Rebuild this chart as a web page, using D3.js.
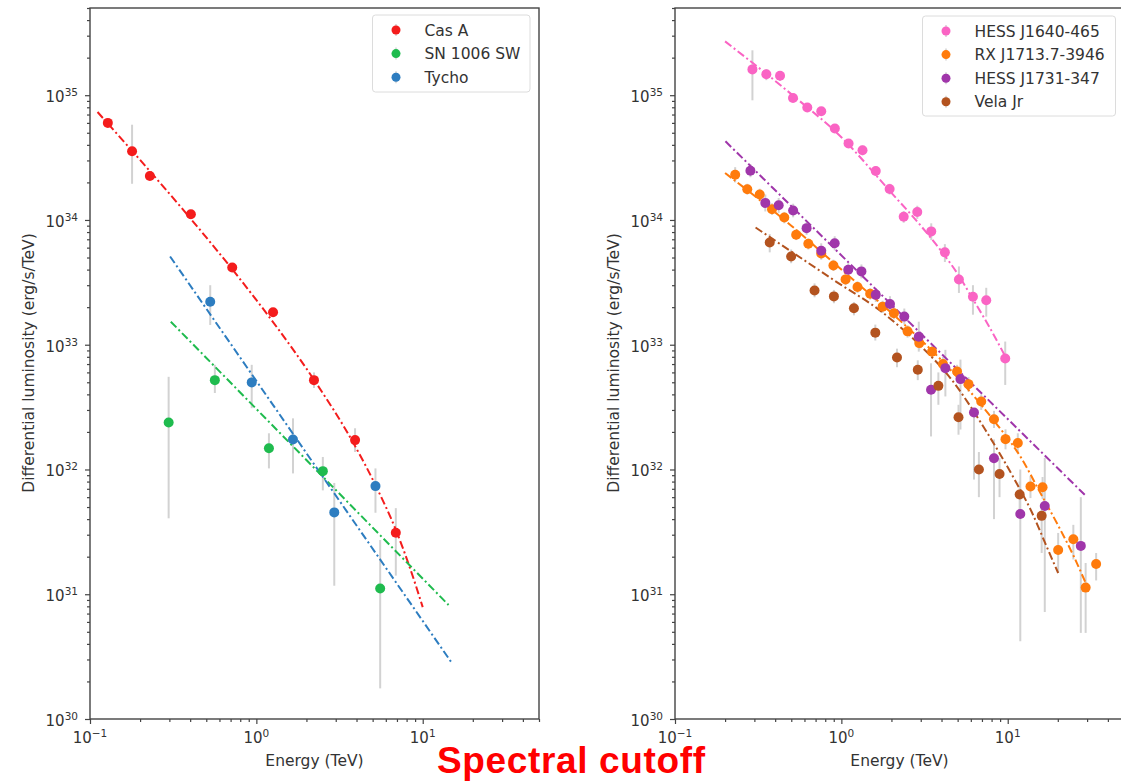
<!DOCTYPE html>
<html>
<head>
<meta charset="utf-8">
<script src="https://cdn.jsdelivr.net/npm/d3@7"></script>
<style>
body { margin: 0; background: #fff; }
svg { display: block; font-family: "DejaVu Sans", sans-serif; }
</style>
</head>
<body>
<svg id="vis_canvas" width="1121" height="781"></svg>
<script>
// ---- left panel: shell SNRs ----
var casA_E  = [0.128, 0.179, 0.229, 0.404, 0.716, 1.26, 2.22, 3.92, 6.89];
var casA_L  = [6.0e34, 3.56e34, 2.25e34, 1.11e34, 4.16e33, 1.82e33, 5.2e32, 1.72e32, 3.11e31];
var casA_lo = [5.6e34, 1.95e34, 2.1e34, 1.03e34, 3.9e33, 1.7e33, 4.5e32, 1.38e32, 1.41e31];
var casA_hi = [6.4e34, 5.8e34, 2.4e34, 1.19e34, 4.4e33, 1.95e33, 6.0e32, 2.14e32, 4.9e31];

var sn1006_E  = [0.297, 0.563, 1.19, 2.51, 5.55];
var sn1006_L  = [2.38e32, 5.2e32, 1.48e32, 9.7e31, 1.11e31];
var sn1006_lo = [4.06e31, 4.1e32, 1.02e32, 6.8e31, 1.76e30];
var sn1006_hi = [5.53e32, 6.9e32, 1.95e32, 1.26e32, 2.72e31];

var tycho_E  = [0.528, 0.938, 1.66, 2.94, 5.20];
var tycho_L  = [2.21e33, 4.99e32, 1.74e32, 4.53e31, 7.36e31];
var tycho_lo = [1.44e33, 3.1e32, 9.3e31, 1.17e31, 4.5e31];
var tycho_hi = [3.0e33, 6.9e32, 2.57e32, 7.8e31, 1.02e32];

var casA_fitE   = [0.111, 0.2, 0.4, 0.7, 1.25, 2.2, 3.9, 5.3, 6.9, 8.4, 10];
var casA_fitL   = [7.33e34, 3.03e34, 1.035e34, 4.18e33, 1.54e33, 5.33e32, 1.56e32, 7.11e31, 3.27e31, 1.61e31, 7.89e30];
var sn1006_fitE = [0.306, 14.3];
var sn1006_fitL = [1.53e33, 8.2e30];
var tycho_fitE  = [0.303, 15.0];
var tycho_fitL  = [5.1e33, 2.8e30];

// ---- right panel ----
var j1640_E  = [0.292, 0.354, 0.428, 0.512, 0.624, 0.757, 0.914, 1.105, 1.34, 1.61, 1.95, 2.37, 2.86, 3.47, 4.19, 5.09, 6.18, 7.43, 9.66];
var j1640_L  = [1.61e35, 1.47e35, 1.43e35, 9.5e34, 7.96e34, 7.44e34, 5.41e34, 4.1e34, 3.62e34, 2.47e34, 1.77e34, 1.06e34, 1.16e34, 8.1e33, 5.5e33, 3.33e33, 2.42e33, 2.27e33, 7.76e32];
var j1640_lo = [9.1e34, 1.32e35, 1.3e35, 8.8e34, 7.4e34, 6.9e34, 5.0e34, 3.8e34, 3.3e34, 2.25e34, 1.6e34, 9.5e33, 1.02e34, 6.9e33, 4.6e33, 2.6e33, 1.74e33, 1.68e33, 4.76e32];
var j1640_hi = [2.29e35, 1.62e35, 1.56e35, 1.02e35, 8.6e34, 8.0e34, 5.85e34, 4.45e34, 3.95e34, 2.7e34, 1.95e34, 1.18e34, 1.3e34, 9.4e33, 6.4e33, 4.24e33, 3.0e33, 2.86e33, 1.06e33];

var j1713_E  = [0.230, 0.272, 0.323, 0.383, 0.454, 0.535, 0.633, 0.757, 0.896, 1.06, 1.25, 1.49, 1.77, 2.07, 2.50, 2.94, 3.51, 4.08, 4.96, 5.81, 6.93, 8.27, 9.70, 11.5, 13.7, 16.2, 20.1, 24.8, 29.4, 34.0];
var j1713_L  = [2.3e34, 1.76e34, 1.6e34, 1.22e34, 1.045e34, 7.6e33, 6.45e33, 5.38e33, 4.31e33, 3.34e33, 2.9e33, 2.56e33, 2.02e33, 1.79e33, 1.28e33, 1.03e33, 8.8e32, 7.0e32, 6.1e32, 4.83e32, 3.51e32, 2.53e32, 1.75e32, 1.63e32, 7.3e31, 7.2e31, 2.26e31, 2.76e31, 1.13e31, 1.75e31];
var j1713_lo = [2.0e34, 1.6e34, 1.45e34, 1.1e34, 9.4e33, 6.9e33, 5.8e33, 4.8e33, 3.9e33, 3.0e33, 2.6e33, 2.3e33, 1.8e33, 1.6e33, 1.14e33, 9.1e32, 7.8e32, 6.1e32, 5.3e32, 4.2e32, 3.0e32, 2.15e32, 1.45e32, 1.35e32, 5.9e31, 5.8e31, 1.48e31, 1.9e31, 4.9e30, 1.29e31];
var j1713_hi = [2.65e34, 1.95e34, 1.78e34, 1.36e34, 1.16e34, 8.4e33, 7.1e33, 6.0e33, 4.8e33, 3.7e33, 3.22e33, 2.84e33, 2.25e33, 2.0e33, 1.43e33, 1.16e33, 9.9e32, 8.0e32, 6.9e32, 5.5e32, 4.0e32, 2.95e32, 2.1e32, 1.95e32, 8.9e31, 8.7e31, 3.1e31, 3.6e31, 1.78e31, 2.14e31];

var j1731_E  = [0.284, 0.349, 0.420, 0.513, 0.618, 0.757, 0.912, 1.10, 1.32, 1.61, 1.96, 2.39, 2.92, 3.46, 4.22, 5.20, 6.27, 8.27, 11.9, 16.7, 27.5];
var j1731_L  = [2.48e34, 1.37e34, 1.31e34, 1.19e34, 8.6e33, 5.67e33, 6.5e33, 3.99e33, 3.87e33, 2.51e33, 2.12e33, 1.68e33, 1.16e33, 4.35e32, 6.49e32, 5.3e32, 2.86e32, 1.23e32, 4.4e31, 5.1e31, 2.44e31];
var j1731_lo = [2.2e34, 1.17e34, 1.14e34, 1.05e34, 7.6e33, 4.9e33, 5.7e33, 3.5e33, 3.4e33, 2.2e33, 1.83e33, 1.45e33, 8.8e32, 1.84e32, 3.85e32, 2.09e32, 8.3e31, 4.0e31, 4.2e30, 7.2e30, 4.9e30];
var j1731_hi = [2.8e34, 1.6e34, 1.5e34, 1.35e34, 9.8e33, 6.5e33, 7.4e33, 4.5e33, 4.4e33, 2.85e33, 2.45e33, 1.95e33, 1.53e33, 7.1e32, 9.1e32, 7.6e32, 3.0e32, 1.74e32, 1.0e32, 1.24e32, 6.0e31];

var vela_E  = [0.371, 0.499, 0.690, 0.902, 1.19, 1.60, 2.16, 2.88, 3.83, 5.06, 6.71, 8.93, 11.8, 16.0];
var vela_L  = [6.6e33, 5.1e33, 2.72e33, 2.44e33, 1.96e33, 1.25e33, 7.9e32, 6.3e32, 4.68e32, 2.62e32, 1.0e32, 9.2e31, 6.3e31, 4.25e31];
var vela_lo = [5.5e33, 4.5e33, 2.4e33, 2.15e33, 1.72e33, 1.08e33, 6.6e32, 5.2e32, 3.3e32, 1.9e32, 6.0e31, 6.0e31, 4.5e31, 2.14e31];
var vela_hi = [7.7e33, 5.8e33, 3.1e33, 2.75e33, 2.2e33, 1.45e33, 9.3e32, 7.5e32, 6.0e32, 3.3e32, 1.38e32, 1.23e32, 8.0e31, 4.8e31];

var j1640_fitE = [0.2, 0.5, 1.0, 2.0, 3.0, 4.0, 5.0, 6.2, 7.5, 9.8];
var j1640_fitL = [2.7e35, 1.02e35, 4.6e34, 1.65e34, 9.0e33, 5.6e33, 3.7e33, 2.3e33, 1.5e33, 7.8e32];
var j1713_fitE = [0.2, 0.5, 1.0, 2.0, 4.0, 8.0, 12, 16, 20, 25, 29.5];
var j1713_fitL = [2.38e34, 9.0e33, 4.0e33, 1.8e33, 7.5e32, 2.6e32, 1.25e32, 6.2e31, 3.6e31, 2.0e31, 1.22e31];
var j1731_fitE = [0.201, 29.1];
var j1731_fitL = [4.27e34, 6.25e31];
var vela_fitE  = [0.305, 0.9, 1.8, 2.9, 4.6, 7.3, 11, 13.9, 17.5, 20.1];
var vela_fitL  = [8.7e33, 3.3e33, 1.78e33, 1.02e33, 5.25e32, 2.1e32, 8.3e31, 4.6e31, 2.26e31, 1.48e31];

var x_ticks = [0.1, 1, 10];
var x_tick_exp = ["\u22121", "0", "1"];
var y_ticks = [1e30, 1e31, 1e32, 1e33, 1e34, 1e35];
var y_tick_exp = ["30", "31", "32", "33", "34", "35"];

function pack(E, L, lo, hi) {
    return E.map(function(e, i) { return {e: e, l: L[i], lo: lo[i], hi: hi[i]}; });
}
function packFit(E, L) {
    return E.map(function(e, i) { return [e, L[i]]; });
}

var left_series = [
    {name: "Cas A", color: "#f41c1c", pts: pack(casA_E, casA_L, casA_lo, casA_hi), fit: packFit(casA_fitE, casA_fitL)},
    {name: "SN 1006 SW", color: "#1fbb4e", pts: pack(sn1006_E, sn1006_L, sn1006_lo, sn1006_hi), fit: packFit(sn1006_fitE, sn1006_fitL)},
    {name: "Tycho", color: "#2d7dc0", pts: pack(tycho_E, tycho_L, tycho_lo, tycho_hi), fit: packFit(tycho_fitE, tycho_fitL)}
];
var right_series = [
    {name: "HESS J1640-465", color: "#fa64c4", pts: pack(j1640_E, j1640_L, j1640_lo, j1640_hi), fit: packFit(j1640_fitE, j1640_fitL)},
    {name: "RX J1713.7-3946", color: "#ff7b0c", pts: pack(j1713_E, j1713_L, j1713_lo, j1713_hi), fit: packFit(j1713_fitE, j1713_fitL)},
    {name: "HESS J1731-347", color: "#a036aa", pts: pack(j1731_E, j1731_L, j1731_lo, j1731_hi), fit: packFit(j1731_fitE, j1731_fitL)},
    {name: "Vela Jr", color: "#b3531f", pts: pack(vela_E, vela_L, vela_lo, vela_hi), fit: packFit(vela_fitE, vela_fitL)}
];

var svg = d3.select("#vis_canvas");
var axis_col = "#444";
var text_col = "#333";

function drawPanel(x0, x1, series, legend) {
    var x = d3.scaleLog().domain([0.1, 50]).range([x0, x1]);
    var y = d3.scaleLog().domain([1e30, 5e35]).range([719, 8]);
    var g = svg.append("g");

    var x_minor = [];
    x_ticks.forEach(function(d) {
        for (var k = 2; k <= 9; k++) { if (d * k <= 50) x_minor.push(d * k); }
    });
    var y_minor = [];
    y_ticks.forEach(function(d) {
        for (var k = 2; k <= 9; k++) { if (d * k <= 5e35) y_minor.push(d * k); }
    });

    function styleAxis(a) {
        a.select(".domain").remove();
        a.selectAll("line").attr("stroke", axis_col).attr("stroke-width", 1.2);
    }
    g.append("g").attr("transform", "translate(0,719)")
        .call(d3.axisBottom(x).tickValues(x_minor).tickSize(3).tickFormat("")).call(styleAxis);
    g.append("g").attr("transform", "translate(0,719)")
        .call(d3.axisBottom(x).tickValues(x_ticks).tickSize(5).tickFormat("")).call(styleAxis);
    g.append("g").attr("transform", "translate(" + x0 + ",0)")
        .call(d3.axisLeft(y).tickValues(y_minor).tickSize(3).tickFormat("")).call(styleAxis);
    g.append("g").attr("transform", "translate(" + x0 + ",0)")
        .call(d3.axisLeft(y).tickValues(y_ticks).tickSize(5).tickFormat("")).call(styleAxis);

    // tick labels with superscripts
    var xl = g.selectAll(".xlab").data(x_ticks).enter().append("text")
        .attr("class", "xlab")
        .attr("x", function(d) { return x(d); })
        .attr("y", 743)
        .attr("text-anchor", "middle")
        .attr("font-size", 15)
        .attr("fill", text_col);
    xl.append("tspan").text("10");
    xl.append("tspan").attr("dy", -6.5).attr("font-size", 10.5).text(function(d, i) { return x_tick_exp[i]; });

    var yl = g.selectAll(".ylab").data(y_ticks).enter().append("text")
        .attr("class", "ylab")
        .attr("x", x0 - 12)
        .attr("y", function(d) { return y(d) + 7; })
        .attr("text-anchor", "end")
        .attr("font-size", 15)
        .attr("fill", text_col);
    yl.append("tspan").text("10");
    yl.append("tspan").attr("dy", -6).attr("font-size", 10.5).text(function(d, i) { return y_tick_exp[i]; });

    g.append("text")
        .attr("x", (x0 + x1) / 2)
        .attr("y", 766)
        .attr("text-anchor", "middle")
        .attr("font-size", 15.5)
        .attr("fill", text_col)
        .text("Energy (TeV)");
    g.append("text")
        .attr("transform", "translate(" + (x0 - 56) + ",363) rotate(-90)")
        .attr("text-anchor", "middle")
        .attr("font-size", 15.5)
        .attr("fill", text_col)
        .text("Differential luminosity (erg/s/TeV)");

    // error bars
    series.forEach(function(s) {
        g.selectAll(null).data(s.pts).enter().append("line")
            .attr("x1", function(d) { return x(d.e); })
            .attr("x2", function(d) { return x(d.e); })
            .attr("y1", function(d) { return y(d.lo); })
            .attr("y2", function(d) { return y(d.hi); })
            .attr("stroke", "#d2d2d2")
            .attr("stroke-width", 2);
    });

    // fitted models
    var line = d3.line()
        .x(function(d) { return x(d[0]); })
        .y(function(d) { return y(d[1]); })
        .curve(d3.curveMonotoneX);
    series.forEach(function(s) {
        g.append("path")
            .attr("d", line(s.fit))
            .attr("fill", "none")
            .attr("stroke", s.color)
            .attr("stroke-width", 2)
            .attr("stroke-dasharray", "8,3,2,3");
    });

    // points
    series.forEach(function(s) {
        g.selectAll(null).data(s.pts).enter().append("circle")
            .attr("cx", function(d) { return x(d.e); })
            .attr("cy", function(d) { return y(d.l); })
            .attr("r", 5)
            .attr("fill", s.color);
    });

    // frame
    g.append("rect")
        .attr("x", x0).attr("y", 8)
        .attr("width", x1 - x0).attr("height", 711)
        .attr("fill", "none")
        .attr("stroke", axis_col)
        .attr("stroke-width", 1.4);

    // legend
    var lg = g.append("g");
    lg.append("rect")
        .attr("x", legend.x).attr("y", legend.y)
        .attr("width", legend.w).attr("height", legend.h)
        .attr("rx", 3)
        .attr("fill", "#fff")
        .attr("fill-opacity", 0.85)
        .attr("stroke", "#dcdcdc");
    var items = lg.selectAll(".item").data(series).enter().append("g")
        .attr("transform", function(d, i) { return "translate(0," + (legend.y + 15 + i * 23.6) + ")"; });
    items.append("line")
        .attr("x1", legend.x + 23.5).attr("x2", legend.x + 23.5)
        .attr("y1", -6).attr("y2", 6)
        .attr("stroke", "#d2d2d2").attr("stroke-width", 1.5);
    items.append("circle")
        .attr("cx", legend.x + 23.5).attr("cy", 0).attr("r", 4.5)
        .attr("fill", function(d) { return d.color; });
    items.append("text")
        .attr("x", legend.x + 52).attr("y", 5.5)
        .attr("font-size", 15.5)
        .attr("fill", text_col)
        .text(function(d) { return d.name; });
}

drawPanel(90, 539, left_series, {x: 372.5, y: 15, w: 157.5, h: 77});
drawPanel(675, 1124, right_series, {x: 922.5, y: 16, w: 193, h: 100});

svg.append("text")
    .attr("x", 437)
    .attr("y", 773)
    .style("font-family", "'Liberation Sans', Arial, sans-serif")
    .style("font-weight", "bold")
    .attr("font-size", 37)
    .attr("textLength", 268)
    .attr("fill", "#ff0000")
    .text("Spectral cutoff");
</script>
</body>
</html>
